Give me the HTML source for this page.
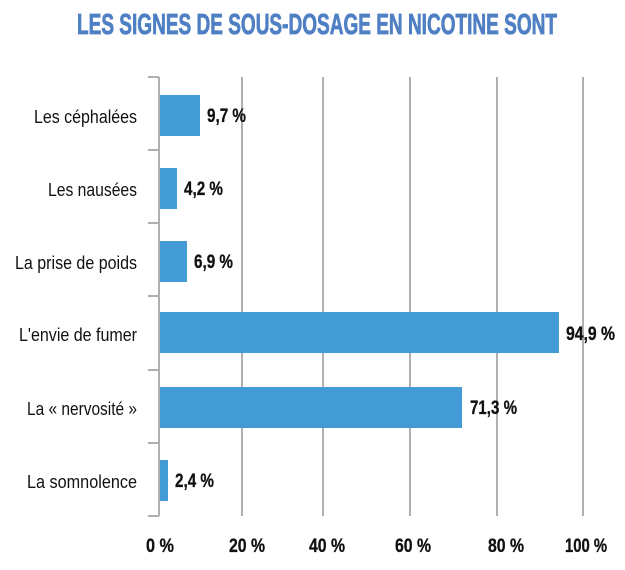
<!DOCTYPE html>
<html><head><meta charset="utf-8"><style>
html,body{margin:0;padding:0;background:#fff;}
svg{display:block;}
</style></head><body>
<svg width="625" height="570" viewBox="0 0 625 570" xmlns="http://www.w3.org/2000/svg" font-family="'Liberation Sans', sans-serif">
<text x="317" y="34" text-anchor="middle" font-size="29" font-weight="bold" fill="#5080c4" stroke="#5080c4" stroke-width="0.8" textLength="480" lengthAdjust="spacingAndGlyphs">LES SIGNES DE SOUS-DOSAGE EN NICOTINE SONT</text>
<g stroke="#b0b0b0" stroke-width="2">
<line x1="242" y1="77" x2="242" y2="516"/>
<line x1="323" y1="77" x2="323" y2="516"/>
<line x1="410" y1="77" x2="410" y2="516"/>
<line x1="497" y1="77" x2="497" y2="516"/>
<line x1="583" y1="77" x2="583" y2="516"/>
<line x1="159" y1="77" x2="159" y2="516"/>
<line x1="148" y1="77" x2="159" y2="77"/>
<line x1="148" y1="150" x2="159" y2="150"/>
<line x1="148" y1="223" x2="159" y2="223"/>
<line x1="148" y1="296" x2="159" y2="296"/>
<line x1="148" y1="370" x2="159" y2="370"/>
<line x1="148" y1="443" x2="159" y2="443"/>
<line x1="148" y1="516" x2="159" y2="516"/>
</g>
<g fill="#439bd6">
<rect x="160" y="95" width="40" height="41"/>
<rect x="160" y="168" width="17" height="41"/>
<rect x="160" y="241" width="27" height="41"/>
<rect x="160" y="312" width="399" height="41"/>
<rect x="160" y="387" width="302" height="41"/>
<rect x="160" y="460" width="8" height="41"/>
</g>
<g font-size="19" font-weight="bold" fill="#111" stroke="#111" stroke-width="0.3">
<text x="207" y="122" textLength="39" lengthAdjust="spacingAndGlyphs">9,7 %</text>
<text x="184" y="195" textLength="39" lengthAdjust="spacingAndGlyphs">4,2 %</text>
<text x="194" y="268" textLength="39" lengthAdjust="spacingAndGlyphs">6,9 %</text>
<text x="566" y="340" textLength="49" lengthAdjust="spacingAndGlyphs">94,9 %</text>
<text x="470" y="414" textLength="47" lengthAdjust="spacingAndGlyphs">71,3 %</text>
<text x="175" y="487" textLength="39" lengthAdjust="spacingAndGlyphs">2,4 %</text>
</g>
<g font-size="18" fill="#111" text-anchor="end">
<text x="137" y="123" textLength="103" lengthAdjust="spacingAndGlyphs">Les céphalées</text>
<text x="137" y="196" textLength="89" lengthAdjust="spacingAndGlyphs">Les nausées</text>
<text x="137" y="269" textLength="122" lengthAdjust="spacingAndGlyphs">La prise de poids</text>
<text x="137" y="341" textLength="118" lengthAdjust="spacingAndGlyphs">L'envie de fumer</text>
<text x="137" y="415" textLength="110" lengthAdjust="spacingAndGlyphs">La « nervosité »</text>
<text x="137" y="488" textLength="110" lengthAdjust="spacingAndGlyphs">La somnolence</text>
</g>
<g font-size="19" font-weight="bold" fill="#111" stroke="#111" stroke-width="0.3" text-anchor="middle">
<text x="160" y="552" textLength="28" lengthAdjust="spacingAndGlyphs">0 %</text>
<text x="247" y="552" textLength="36" lengthAdjust="spacingAndGlyphs">20 %</text>
<text x="327" y="552" textLength="36" lengthAdjust="spacingAndGlyphs">40 %</text>
<text x="413" y="552" textLength="36" lengthAdjust="spacingAndGlyphs">60 %</text>
<text x="506" y="552" textLength="36" lengthAdjust="spacingAndGlyphs">80 %</text>
<text x="586" y="552" textLength="42" lengthAdjust="spacingAndGlyphs">100 %</text>
</g>
</svg>
</body></html>
